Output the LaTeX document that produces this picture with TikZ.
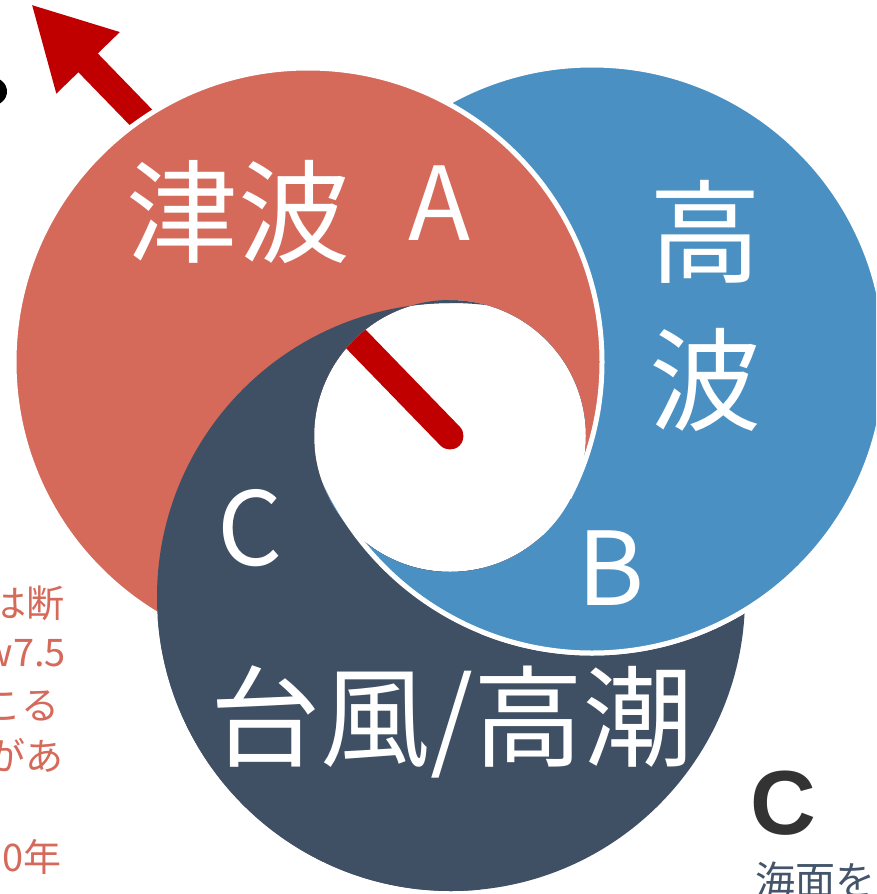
\documentclass[tikz,border=0pt]{standalone}
\usepackage{fontspec}
\usetikzlibrary{arrows.meta}
\newfontfamily\jpfont{Noto Sans CJK JP}
\newfontfamily\arialfont{Liberation Sans}
\definecolor{cred}{HTML}{D5695A}
\definecolor{cblue}{HTML}{4A90C2}
\definecolor{cdark}{HTML}{3F4F64}
\definecolor{carrow}{HTML}{C00000}
\definecolor{cslate}{HTML}{44546A}
\definecolor{cgray}{HTML}{333333}
\tikzset{
  redcres/.style={fill=cred, even odd rule},
  bluecres/.style={fill=cblue, even odd rule},
  darkcres/.style={fill=cdark, even odd rule},
  rimline/.style={draw=white, line width=5pt},
  biglabel/.style={text=white, inner sep=0pt, font=\jpfont\fontsize{112}{112}\selectfont},
  letterlabel/.style={text=white, inner sep=0pt, font=\jpfont\fontsize{102}{102}\selectfont},
  sidetext/.style={text=cred, inner sep=0pt, anchor=east, font=\jpfont\fontsize{38}{38}\selectfont},
  arrowshaft/.style={draw=carrow, line width=27pt, line cap=round,
     -{Triangle[length=82pt,width=82pt]}}
}
\begin{document}
\begin{tikzpicture}[x=1pt,y=-1pt]
\useasboundingbox (0,0) rectangle (876,894);
\clip (0,0) rectangle (876,894);
\fill[white] (0,0) rectangle (876,894);
% centres
\coordinate (rc) at (308,362);
\coordinate (bc) at (592,359);
\coordinate (dc) at (451,597);
\coordinate (hc) at (450,436);
\coordinate (tip) at (31,4);
% partial black glyph at the left edge
\fill[black] (-8,91.5) ellipse [x radius=15pt, y radius=14pt];
% arrow (behind the rings)
\draw[arrowshaft] (hc) -- (tip);
% 1. dark ring
\path[darkcres] (dc) circle [radius=294pt] (hc) circle [radius=136pt];
% 2. blue ring
\path[bluecres] (bc) circle [radius=294pt] (hc) circle [radius=136pt];
\path[rimline] (bc) circle [radius=294pt];
% 3. red ring
\path[redcres] (rc) circle [radius=294pt] (hc) circle [radius=136pt];
\path[rimline] (rc) circle [radius=294pt];
% 4. dark over red / blue on the left
\begin{scope}
  \clip (0,0) -- (449,0) -- (449,420) -- (480,420) -- (480,894) -- (0,894) -- cycle;
  \path[darkcres] (dc) circle [radius=294pt] (hc) circle [radius=136pt];
\end{scope}
% 5. blue over red / dark below the hole
\begin{scope}
  \clip (0,499) rectangle (876,894);
  \path[bluecres] (bc) circle [radius=294pt] (hc) circle [radius=136pt];
  \path[rimline] (bc) circle [radius=294pt];
\end{scope}
% labels
\node[biglabel] (tsunami) at (238,212) {津波};
\node[letterlabel] (la) at (440,203) {A};
\node[biglabel] (taka) at (705,232) {高};
\node[biglabel] (nami) at (705,380) {波};
\node[letterlabel] (lc) at (250,528) {C};
\node[letterlabel] (lb) at (611,568) {B};
\node[text=white, inner sep=0pt, font=\jpfont\fontsize{110}{110}\selectfont] (typhoon) at (452,722) {台風/高潮};
% side texts
\node[sidetext] (s1) at (65,603) {は断};
\node[sidetext] (s2) at (66,653) {w7.5};
\node[sidetext] (s3) at (60,706) {こる};
\node[sidetext] (s4) at (64,755) {があ};
\node[sidetext] (s5) at (62,857) {0年};
\node[text=cgray, inner sep=0pt, font=\arialfont\bfseries\fontsize{91}{91}\selectfont] (bigc) at (783,803) {C};
\node[text=cslate, inner sep=0pt, anchor=west, font=\jpfont\fontsize{40}{40}\selectfont] (kaimen) at (755,880) {海面を};
\end{tikzpicture}
\end{document}
